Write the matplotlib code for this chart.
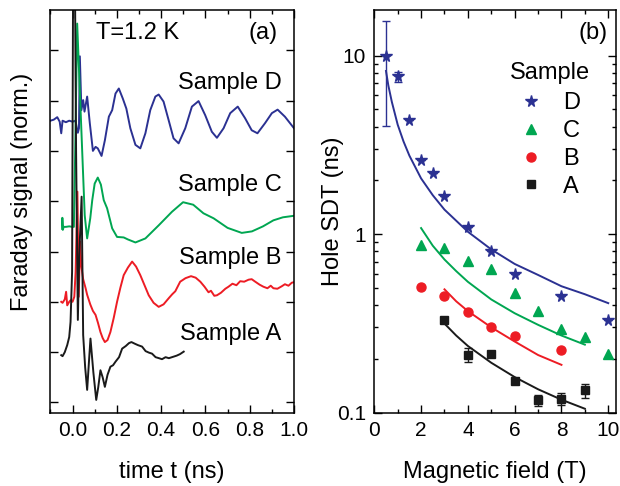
import numpy as np
import matplotlib.pyplot as plt
from matplotlib.ticker import MultipleLocator, FixedLocator, NullFormatter, FixedFormatter

plt.rcParams['font.family'] = ['Liberation Sans', 'DejaVu Sans']
plt.rcParams['font.size'] = 15

# colours
c_D = '#2b3192'
c_C = '#00a651'
c_B = '#ed1c24'
c_A = '#1a1a1a'

# ---- panel (a): Faraday rotation traces (offset, normalised) ----
tD = [-0.100, -0.085, -0.069, -0.058, -0.051, -0.045, -0.030, -0.015, 0.000, 0.013,
      0.020, 0.024, 0.029, 0.033, 0.040, 0.048, 0.054, 0.066, 0.078, 0.092,
      0.104, 0.114, 0.122, 0.131, 0.146, 0.164, 0.179, 0.194, 0.209, 0.227,
      0.243, 0.261, 0.284, 0.306, 0.329, 0.351, 0.374, 0.389, 0.411, 0.434,
      0.456, 0.479, 0.509, 0.539, 0.569, 0.599, 0.629, 0.652, 0.682, 0.712,
      0.746, 0.779, 0.809, 0.835, 0.869, 0.900, 0.926, 0.959, 1.000]
yD = [5.60, 5.62, 5.67, 5.58, 5.35, 5.60, 5.57, 5.60, 5.58, 5.60,
      5.45, 5.36, 5.45, 6.88, 5.81, 6.01, 5.78, 6.08, 5.55, 5.00,
      5.08, 5.05, 4.98, 4.90, 5.21, 5.68, 5.81, 6.14, 6.24, 6.04,
      5.84, 5.45, 5.12, 5.05, 5.35, 5.81, 6.08, 6.12, 5.98, 5.61,
      5.25, 5.15, 5.45, 5.88, 5.99, 5.71, 5.38, 5.26, 5.45, 5.75,
      5.88, 5.65, 5.41, 5.35, 5.55, 5.75, 5.82, 5.68, 5.45]

tC = [-0.046, -0.046, -0.044, -0.040, -0.030, -0.015, 0.000, 0.006, 0.012, 0.021,
      0.035, 0.055, 0.066, 0.080, 0.089, 0.100, 0.114, 0.128, 0.141, 0.156,
      0.179, 0.201, 0.231, 0.250, 0.284, 0.329, 0.389, 0.449, 0.499, 0.545,
      0.591, 0.637, 0.700, 0.764, 0.810, 0.860, 0.907, 0.950, 1.000]
yC = [3.45, 3.67, 3.43, 3.49, 3.49, 3.50, 3.49, 3.49, 5.00, 7.53,
      5.96, 3.72, 3.26, 3.66, 4.02, 4.35, 4.47, 4.33, 4.02, 3.86,
      3.46, 3.29, 3.28, 3.24, 3.18, 3.26, 3.52, 3.79, 3.98, 3.93,
      3.76, 3.66, 3.47, 3.37, 3.40, 3.50, 3.62, 3.68, 3.71]

tB = [-0.051, -0.045, -0.035, -0.029, -0.024, -0.015, -0.009, 0.000, 0.008, 0.014,
      0.022, 0.028, 0.034, 0.040, 0.048, 0.059, 0.066, 0.080, 0.092, 0.104,
      0.115, 0.126, 0.136, 0.146, 0.158, 0.171, 0.186, 0.201, 0.216, 0.231,
      0.250, 0.269, 0.287, 0.306, 0.325, 0.344, 0.366, 0.389, 0.411, 0.434,
      0.450, 0.464, 0.486, 0.510, 0.535, 0.556, 0.577, 0.596, 0.614, 0.625,
      0.640, 0.652, 0.670, 0.690, 0.704, 0.722, 0.740, 0.757, 0.775, 0.795,
      0.809, 0.825, 0.845, 0.862, 0.880, 0.895, 0.907, 0.925, 0.945, 0.959,
      0.975, 0.990, 1.000]
yB = [2.00, 1.98, 2.05, 2.20, 1.93, 2.00, 2.03, 2.00, 2.10, 2.60,
      4.19, 2.10, 3.20, 2.70, 2.45, 2.27, 2.14, 1.95, 1.82, 1.74,
      1.58, 1.40, 1.28, 1.20, 1.24, 1.40, 1.68, 2.00, 2.28, 2.53,
      2.68, 2.80, 2.70, 2.53, 2.33, 2.13, 1.98, 1.90, 1.95, 2.07,
      2.15, 2.21, 2.40, 2.47, 2.51, 2.48, 2.40, 2.30, 2.19, 2.22,
      2.12, 2.13, 2.18, 2.26, 2.30, 2.36, 2.33, 2.41, 2.40, 2.44,
      2.45, 2.40, 2.34, 2.30, 2.27, 2.32, 2.27, 2.26, 2.31, 2.35,
      2.32, 2.38, 2.39]

tA = [-0.051, -0.045, -0.035, -0.024, -0.015, -0.009, -0.002, 0.003, 0.010, 0.016,
      0.024, 0.030, 0.041, 0.048, 0.057, 0.066, 0.074, 0.081, 0.094, 0.107,
      0.116, 0.126, 0.136, 0.146, 0.158, 0.171, 0.183, 0.194, 0.210, 0.224,
      0.240, 0.255, 0.266, 0.280, 0.295, 0.314, 0.330, 0.345, 0.359, 0.375,
      0.390, 0.404, 0.420, 0.435, 0.456, 0.470, 0.485, 0.502]
yA = [0.94, 0.92, 1.00, 1.14, 1.30, 1.60, 2.60, 9.00, 9.00, 5.00,
      1.64, 2.90, 4.09, 1.34, 0.70, 0.25, 0.80, 1.27, 0.60, 0.05,
      0.30, 0.64, 0.50, 0.31, 0.55, 0.71, 0.74, 0.81, 0.90, 1.07,
      1.12, 1.18, 1.20, 1.17, 1.14, 1.11, 1.02, 0.99, 0.97, 0.90,
      0.88, 0.86, 0.90, 0.88, 0.91, 0.93, 0.96, 1.01]

trace_labels = ['Sample D', 'Sample C', 'Sample B', 'Sample A']
label_y = [6.35, 4.32, 2.87, 1.36]

# ---- panel (b): hole spin dephasing time vs field ----
B_D = [0.5, 1, 1.5, 2, 2.5, 3, 4, 5, 6, 8, 10]
tau_D = [9.9, 7.66, 4.38, 2.61, 2.2, 1.63, 1.10, 0.80, 0.60, 0.449, 0.332]
errlo_D = [5.85, 0.55, 0, 0, 0, 0, 0, 0, 0, 0, 0]
errhi_D = [5.8, 0.45, 0, 0, 0, 0, 0, 0, 0, 0, 0]

B_C = [2, 3, 4, 5, 6, 7, 8, 9, 10]
tau_C = [0.873, 0.83, 0.71, 0.64, 0.468, 0.37, 0.294, 0.265, 0.214]

B_B = [2, 3, 4, 5, 6, 8]
tau_B = [0.506, 0.449, 0.366, 0.302, 0.268, 0.223]

B_A = [3, 4, 5, 6, 7, 8, 9]
tau_A = [0.328, 0.211, 0.214, 0.151, 0.117, 0.119, 0.133]
err_A = [0, 0.02, 0, 0, 0.008, 0.009, 0.012]

# fit curves
fB_D = [0.5, 0.6, 0.75, 1, 1.25, 1.5, 2, 2.5, 3, 4, 5, 6, 7, 8, 9, 10]
fit_D = [8.2, 6.8, 5.5, 4.1, 3.3, 2.75, 2.05, 1.65, 1.37, 1.03, 0.82, 0.68, 0.59, 0.51, 0.46, 0.41]
fB_C = [2, 2.5, 3, 3.5, 4, 5, 6, 7, 8, 9]
fit_C = [1.08, 0.86, 0.72, 0.62, 0.54, 0.43, 0.36, 0.31, 0.27, 0.24]
fB_B = [3, 3.5, 4, 5, 6, 7, 8]
fit_B = [0.49, 0.42, 0.37, 0.30, 0.25, 0.21, 0.185]
fB_A = [3, 3.5, 4, 5, 6, 7, 8, 9]
fit_A = [0.315, 0.27, 0.236, 0.19, 0.158, 0.135, 0.118, 0.105]

fs = 17

fig = plt.figure(figsize=(6.2, 4.86), dpi=100)
axa = fig.add_axes([0.0802, 0.1512, 0.394, 0.8282])
axb = fig.add_axes([0.6037, 0.1512, 0.3898, 0.8282])

for ax in (axa, axb):
    ax.tick_params(which='both', direction='in', top=True, right=True, width=1.0)
    ax.tick_params(which='major', length=5.5, pad=6)
    ax.tick_params(which='minor', length=3)
    for s in ax.spines.values():
        s.set_linewidth(1.1)

# panel (a)
lw = 1.4
axa.plot(tD, yD, color=c_D, lw=lw)
axa.plot(tC, yC, color=c_C, lw=lw)
axa.plot(tB, yB, color=c_B, lw=lw)
axa.plot(tA, yA, color=c_A, lw=lw)
for lab, yy in zip(trace_labels, label_y):
    axa.text(0.712, yy, lab, ha='center', va='center', fontsize=fs)
axa.text(0.361, 0.943, 'T=1.2 K', transform=axa.transAxes, ha='center', va='center', fontsize=fs)
axa.text(0.873, 0.943, '(a)', transform=axa.transAxes, ha='center', va='center', fontsize=fs)
axa.set_xlim(-0.103, 1.0)
axa.set_ylim(-0.2, 7.8)
axa.xaxis.set_major_locator(MultipleLocator(0.2))
axa.xaxis.set_minor_locator(MultipleLocator(0.1))
axa.set_yticks(range(8))
axa.set_yticklabels([])
axa.set_xticks([0.0, 0.2, 0.4, 0.6, 0.8, 1.0])
axa.set_xticklabels(['0.0', '0.2', '0.4', '0.6', '0.8', '1.0'])
axa.set_xlabel('time t (ns)', fontsize=fs, labelpad=15)
axa.set_ylabel('Faraday signal (norm.)', fontsize=fs)
axa.yaxis.set_label_coords(-0.068, 0.547)

# panel (b)
axb.plot(fB_D, fit_D, color=c_D, lw=1.4)
axb.plot(fB_C, fit_C, color=c_C, lw=1.4)
axb.plot(fB_B, fit_B, color=c_B, lw=1.4)
axb.plot(fB_A, fit_A, color=c_A, lw=1.4)

axb.errorbar(B_D, tau_D, yerr=[errlo_D, errhi_D], fmt='none', ecolor=c_D, elinewidth=1, capsize=3)
axb.errorbar(B_A, tau_A, yerr=err_A, fmt='none', ecolor=c_A, elinewidth=1, capsize=3)
hD, = axb.plot(B_D, tau_D, '*', color=c_D, ms=8.5, ls='none', label='D')
hC, = axb.plot(B_C, tau_C, '^', color=c_C, ms=7, ls='none', label='C')
hB, = axb.plot(B_B, tau_B, 'o', color=c_B, ms=6.5, ls='none', label='B')
hA, = axb.plot(B_A, tau_A, 's', color=c_A, ms=5.5, ls='none', label='A')

axb.set_yscale('log')
axb.set_xlim(0, 10.33)
axb.set_ylim(0.1, 18)
axb.xaxis.set_major_locator(MultipleLocator(2))
axb.xaxis.set_minor_locator(MultipleLocator(1))
axb.yaxis.set_major_locator(FixedLocator([0.1, 1, 10]))
axb.yaxis.set_major_formatter(FixedFormatter(['0.1', '1', '10']))
axb.yaxis.set_minor_locator(FixedLocator([k * 10.0 ** e for e in (-1, 0, 1) for k in range(2, 10)]))
axb.yaxis.set_minor_formatter(NullFormatter())
axb.set_xlabel('Magnetic field (T)', fontsize=fs, labelpad=15)
axb.set_ylabel('Hole SDT (ns)', fontsize=fs)
axb.yaxis.set_label_coords(-0.125, 0.5)
axb.text(0.905, 0.943, '(b)', transform=axb.transAxes, ha='center', va='center', fontsize=fs)

leg = axb.legend(handles=[hD, hC, hB, hA], title='Sample', frameon=False, loc='upper left',
                 bbox_to_anchor=(0.52, 0.895), fontsize=fs, title_fontsize=fs, numpoints=1,
                 handlelength=1.0, handletextpad=0.85, labelspacing=0.25, borderaxespad=0)
leg._legend_box.sep = 6

fig.savefig('out.png', dpi=100)
